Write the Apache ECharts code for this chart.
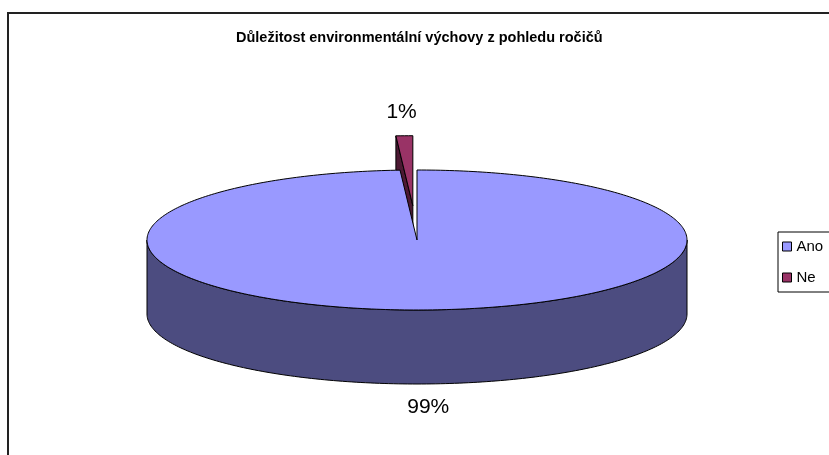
<!DOCTYPE html>
<html>
<head>
<meta charset="utf-8">
<title>Důležitost environmentální výchovy z pohledu ročičů</title>
<script src="https://cdn.jsdelivr.net/npm/echarts@6/dist/echarts.min.js"></script>
<style>
html, body { margin: 0; padding: 0; background: #fff; }
#chart { width: 829px; height: 455px; }
</style>
</head>
<body>
<div id="chart"></div>
<script>
// data
var categories = ['Ano', 'Ne'];
var values = [99, 1];

// look of the 3d pie
var topColors = ['#9999FF', '#993366'];
var sideColors = ['#4C4C80', '#4C1933'];
var explode = [0, 0.49];
var CX = 417, CY = 240, RX = 270, RY = 70, DEPTH = 74;

var total = values.reduce(function (a, b) { return a + b; }, 0);
var starts = [];
var acc = 0;
for (var i = 0; i < values.length; i++) {
    starts.push(acc / total * Math.PI * 2);
    acc += values[i];
}

function pt(t, dy, off) {
    return [CX + off[0] + RX * Math.sin(t), CY + off[1] - RY * Math.cos(t) + dy];
}

function arc(a0, a1, dy, off) {
    var n = Math.max(2, Math.ceil(Math.abs(a1 - a0) / (Math.PI / 180)));
    var pts = [];
    for (var k = 0; k <= n; k++) {
        pts.push(pt(a0 + (a1 - a0) * k / n, dy, off));
    }
    return pts;
}

function renderSlice(idx) {
    return function (params, api) {
        var v = api.value(0);
        var a0 = starts[idx];
        var a1 = a0 + v / total * Math.PI * 2;
        var mid = (a0 + a1) / 2;
        var e = explode[idx];
        var off = [e * RX * Math.sin(mid), -e * RY * Math.cos(mid)];
        var c = [CX + off[0], CY + off[1]];
        var cb = [c[0], c[1] + DEPTH];
        var stroke = { stroke: '#000', lineWidth: 1, lineJoin: 'round' };
        var kids = [];

        // radial faces
        if (Math.sin(a0) < -1e-9) {
            kids.push({ type: 'polygon', shape: { points: [c, pt(a0, 0, off), pt(a0, DEPTH, off), cb] },
                style: Object.assign({ fill: sideColors[idx] }, stroke) });
        }
        if (Math.sin(a1) > 1e-9) {
            kids.push({ type: 'polygon', shape: { points: [c, pt(a1, 0, off), pt(a1, DEPTH, off), cb] },
                style: Object.assign({ fill: sideColors[idx] }, stroke) });
        }
        // outer wall, front half only
        var s = Math.max(a0, Math.PI / 2), t = Math.min(a1, Math.PI * 1.5);
        if (t > s) {
            var wall = arc(s, t, 0, off).concat(arc(t, s, DEPTH, off));
            kids.push({ type: 'polygon', shape: { points: wall },
                style: Object.assign({ fill: sideColors[idx] }, stroke) });
        }
        // top face
        kids.push({ type: 'polygon', shape: { points: [c].concat(arc(a0, a1, 0, off)) },
            style: Object.assign({ fill: topColors[idx] }, stroke) });

        // label
        var k = 1.33;
        var lx = c[0] + k * RX * Math.sin(mid);
        var ly = c[1] - k * RY * Math.cos(mid) + (Math.cos(mid) < 0 ? DEPTH : 0);
        kids.push({ type: 'text', x: lx, y: ly,
            style: { text: Math.round(v / total * 100) + '%', fill: '#000',
                font: '21px "Liberation Sans", Arial, sans-serif', align: 'center', verticalAlign: 'middle' } });

        return { type: 'group', children: kids };
    };
}

// back slice first so the front one covers it
var order = [1, 0];
var series = order.map(function (idx) {
    return {
        name: categories[idx],
        type: 'custom',
        coordinateSystem: 'none',
        itemStyle: { color: topColors[idx] },
        data: [[values[idx]]],
        renderItem: renderSlice(idx),
        silent: true
    };
});

var myChart = echarts.init(document.getElementById('chart'));
var option = {
    animation: false,
    backgroundColor: '#fff',
    title: {
        text: 'Důležitost environmentální výchovy z pohledu ročičů',
        left: 236,
        top: 30,
        padding: 0,
        textStyle: { fontFamily: '"Liberation Sans", Arial, sans-serif', fontSize: 14.5, fontWeight: 'bold', color: '#000' }
    },
    legend: {
        data: categories,
        orient: 'vertical',
        left: 778,
        top: 232,
        padding: [6, 10, 6, 4],
        itemGap: 14,
        itemWidth: 9,
        itemHeight: 9,
        icon: 'rect',
        borderColor: '#000',
        borderWidth: 1,
        borderRadius: 0,
        backgroundColor: '#fff',
        itemStyle: { borderColor: '#000', borderWidth: 1 },
        textStyle: { fontFamily: '"Liberation Sans", Arial, sans-serif', fontSize: 15, color: '#000', lineHeight: 17 }
    },
    graphic: [{
        type: 'rect',
        shape: { x: 8, y: 13, width: 900, height: 500 },
        style: { fill: 'none', stroke: '#222', lineWidth: 2 },
        z: -10
    }],
    series: series
};
myChart.setOption(option);
</script>
</body>
</html>
